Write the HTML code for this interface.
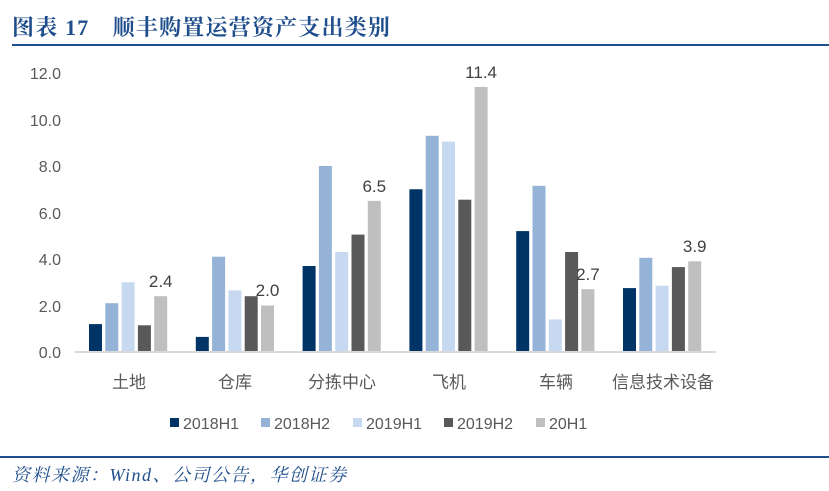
<!DOCTYPE html>
<html><head><meta charset="utf-8"><style>
body{margin:0;background:#fff;}
svg{display:block;font-family:"Liberation Sans","Noto Sans CJK SC",sans-serif;}
</style></head><body>
<svg width="829" height="491" viewBox="0 0 829 491">
<text x="12" y="35" font-family="'Liberation Serif','Noto Serif CJK SC',serif" font-weight="bold" font-size="22" letter-spacing="1.2" fill="#1f4e8c">图表 17　顺丰购置运营资产支出类别</text>
<rect x="12" y="44" width="817" height="2" fill="#1f4e8c"/>
<g font-size="16" fill="#595959" text-anchor="end">
<text x="61" y="358">0.0</text><text x="61" y="312">2.0</text><text x="61" y="265">4.0</text>
<text x="61" y="219">6.0</text><text x="61" y="172">8.0</text><text x="61" y="126">10.0</text><text x="61" y="79">12.0</text>
</g>
<g>
<rect x="89" y="324.1" width="13" height="27.9" fill="#003366"/>
<rect x="105.3" y="303.2" width="13" height="48.8" fill="#95b3d7"/>
<rect x="121.6" y="282.25" width="13" height="69.75" fill="#c6d9f1"/>
<rect x="137.9" y="325.3" width="13" height="26.7" fill="#595959"/>
<rect x="154.2" y="296.2" width="13" height="55.8" fill="#bfbfbf"/>

<rect x="195.8" y="336.9" width="13" height="15.1" fill="#003366"/>
<rect x="212.1" y="256.7" width="13" height="95.3" fill="#95b3d7"/>
<rect x="228.4" y="290.4" width="13" height="61.6" fill="#c6d9f1"/>
<rect x="244.7" y="296.2" width="13" height="55.8" fill="#595959"/>
<rect x="261" y="305.5" width="13" height="46.5" fill="#bfbfbf"/>

<rect x="302.6" y="266" width="13" height="86" fill="#003366"/>
<rect x="318.9" y="166" width="13" height="186" fill="#95b3d7"/>
<rect x="335.2" y="252" width="13" height="100" fill="#c6d9f1"/>
<rect x="351.5" y="234.6" width="13" height="117.4" fill="#595959"/>
<rect x="367.8" y="200.9" width="13" height="151.1" fill="#bfbfbf"/>

<rect x="409.4" y="189.25" width="13" height="162.75" fill="#003366"/>
<rect x="425.7" y="135.8" width="13" height="216.2" fill="#95b3d7"/>
<rect x="442" y="141.6" width="13" height="210.4" fill="#c6d9f1"/>
<rect x="458.3" y="199.7" width="13" height="152.3" fill="#595959"/>
<rect x="474.6" y="86.95" width="13" height="265.05" fill="#bfbfbf"/>

<rect x="516.2" y="231.1" width="13" height="120.9" fill="#003366"/>
<rect x="532.5" y="185.8" width="13" height="166.2" fill="#95b3d7"/>
<rect x="548.8" y="319.45" width="13" height="32.55" fill="#c6d9f1"/>
<rect x="565.1" y="252" width="13" height="100" fill="#595959"/>
<rect x="581.4" y="289.2" width="13" height="62.8" fill="#bfbfbf"/>

<rect x="623" y="288.1" width="13" height="63.9" fill="#003366"/>
<rect x="639.3" y="257.8" width="13" height="94.2" fill="#95b3d7"/>
<rect x="655.6" y="285.7" width="13" height="66.3" fill="#c6d9f1"/>
<rect x="671.9" y="267.1" width="13" height="84.9" fill="#595959"/>
<rect x="688.2" y="261.3" width="13" height="90.7" fill="#bfbfbf"/>
</g>
<g font-size="17" fill="#404040" text-anchor="middle">
<text x="160.7" y="287">2.4</text>
<text x="267.5" y="296">2.0</text>
<text x="374.3" y="192">6.5</text>
<text x="481.1" y="78">11.4</text>
<text x="587.9" y="280">2.7</text>
<text x="694.7" y="252">3.9</text>
</g>
<rect x="75" y="351" width="641" height="2" fill="#d9d9d9"/>
<g font-size="17" fill="#595959" text-anchor="middle">
<text x="129" y="388">土地</text><text x="235" y="388">仓库</text><text x="342" y="388">分拣中心</text>
<text x="449" y="388">飞机</text><text x="556" y="388">车辆</text><text x="663" y="388">信息技术设备</text>
</g>
<g font-size="16" fill="#595959">
<rect x="170" y="418" width="9" height="9" fill="#003366"/><text x="183" y="429">2018H1</text>
<rect x="261" y="418" width="9" height="9" fill="#95b3d7"/><text x="274" y="429">2018H2</text>
<rect x="353" y="418" width="9" height="9" fill="#c6d9f1"/><text x="366" y="429">2019H1</text>
<rect x="444" y="418" width="9" height="9" fill="#595959"/><text x="457" y="429">2019H2</text>
<rect x="536" y="418" width="9" height="9" fill="#bfbfbf"/><text x="549" y="429">20H1</text>
</g>
<rect x="0" y="456" width="829" height="2" fill="#1f4e8c"/>
<text x="12" y="481" font-family="'Liberation Serif','Noto Serif CJK SC',serif" font-style="italic" font-size="18" letter-spacing="1.5" fill="#1f4e8c">资料来源：Wind、公司公告，华创证券</text>
</svg>
</body></html>
